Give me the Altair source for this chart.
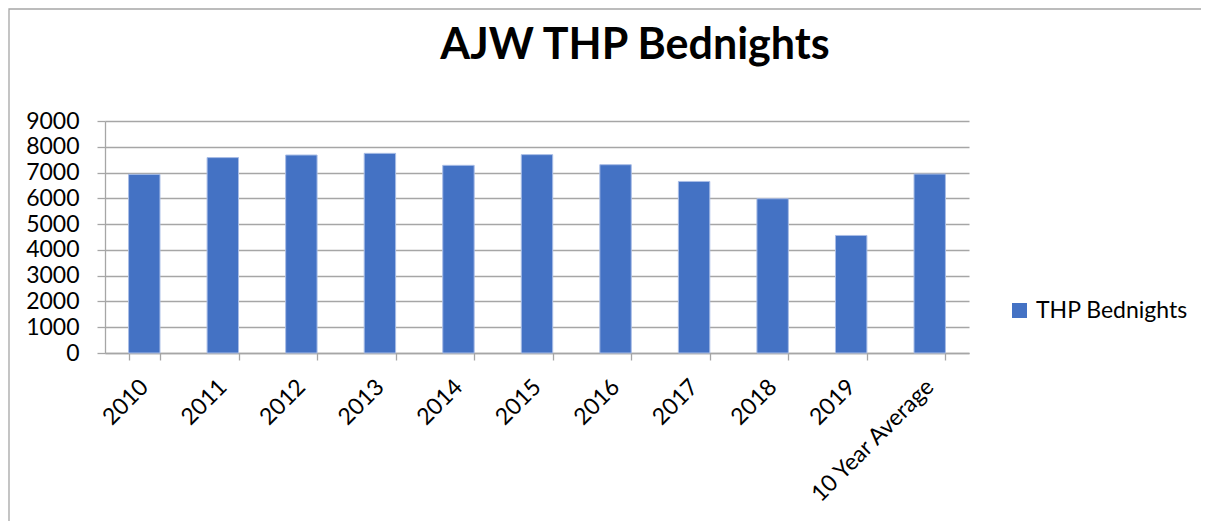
import altair as alt
import pandas as pd

categories = ["2010", "2011", "2012", "2013", "2014", "2015", "2016",
              "2017", "2018", "2019", "10 Year Average"]
values = [6930, 7580, 7680, 7745, 7280, 7695, 7305, 6655, 5985, 4560, 6942]
series_name = "THP Bednights"
y_ticks = [0, 1000, 2000, 3000, 4000, 5000, 6000, 7000, 8000, 9000]
title_text = "AJW THP Bednights"

FONT = "Lato"
GRID = "#a6a6a6"
BAR = "#4472C4"

df = pd.DataFrame({"category": categories, "value": values,
                   "series": [series_name] * len(categories)})
frame_df = pd.DataFrame({"k": [0]})

bars = alt.Chart(df).mark_bar(stroke="#a9bde6", strokeWidth=1).encode(
    x=alt.X("category:N", sort=categories,
            scale=alt.Scale(paddingInner=0.6, paddingOuter=0.3),
            axis=alt.Axis(title=None, labelAngle=-45, labelAlign="right",
                          labelBaseline="middle", labelFontSize=23,
                          labelFont=FONT, labelColor="black", labelPadding=23,
                          tickBand="extent", ticks=True, tickSize=7,
                          tickColor=GRID, tickWidth=1.3, domainColor=GRID,
                          domainWidth=1.3, grid=False, labelOverlap=False,
                          labelBound=False)),
    y=alt.Y("value:Q", scale=alt.Scale(domain=[0, 9000], nice=False),
            axis=alt.Axis(title=None, values=y_ticks, format="d", grid=True,
                          gridColor=GRID, gridWidth=1.3, tickColor=GRID,
                          tickWidth=1.3, tickSize=8, domainColor=GRID,
                          domainWidth=1.3, labelFontSize=23, labelFont=FONT,
                          labelColor="black", labelPadding=18)),
    color=alt.Color("series:N", scale=alt.Scale(range=[BAR]),
                    legend=alt.Legend(title=None, orient="none",
                                      legendX=903, legendY=178,
                                      symbolType="square", symbolSize=225,
                                      symbolStrokeWidth=0,
                                      labelFontSize=23, labelFont=FONT,
                                      labelColor="black", labelOffset=5)),
)

frame = alt.Chart(frame_df).mark_rect(fill=None, stroke=GRID, strokeWidth=1.3).encode(
    x=alt.value(-96), x2=alt.value(1110),
    y=alt.value(-112), y2=alt.value(420),
)

chart = alt.layer(frame, bars).properties(
    width=864, height=232,
    padding={"left": 97, "top": 113, "right": 232, "bottom": 168},
    autosize=alt.AutoSizeParams(type="none"),
    title=alt.TitleParams(title_text, font=FONT, fontSize=43, fontWeight="bold",
                          color="black", anchor="middle", frame="group",
                          dx=98, baseline="alphabetic", offset=-94),
).configure_view(stroke=None)

chart.save("out.html", embed_options={"renderer": "svg", "actions": False})
